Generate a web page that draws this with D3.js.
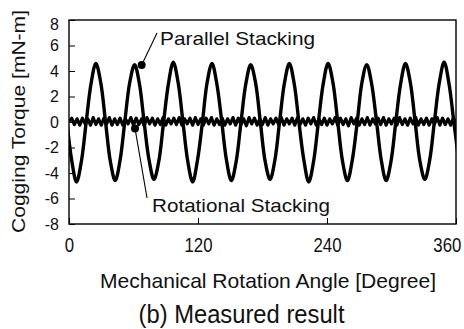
<!DOCTYPE html>
<html>
<head>
<meta charset="utf-8">
<script src="https://cdn.jsdelivr.net/npm/d3@7"></script>
<style>
  body { margin: 0; background: #fff; }
  svg { display: block; }
</style>
</head>
<body>
<svg width="464" height="329"></svg>
<script>
// tick labels
const xTicks = [0, 120, 240, 360];
const yTicks = [-8, -6, -4, -2, 0, 2, 4, 6, 8];

// parallel stacking: samples every 4.5 deg starting at -2 deg
const parallelStart = -2, parallelStep = 4.5;
const parallelTorque = [
  0.1, -3.0, -4.7, -3.1, 0.0, 3.0, 4.6, 3.1,
  0.0, -3.1, -4.6, -3.0, 0.1, 3.1, 4.5, 3.0,
  -0.1, -3.0, -4.5, -3.1, 0.0, 3.0, 4.7, 3.1,
  0.0, -3.1, -4.7, -3.0, -0.1, 3.1, 4.6, 3.0,
  0.1, -3.0, -4.6, -3.1, 0.0, 3.0, 4.5, 3.1,
  0.0, -3.1, -4.5, -3.0, 0.1, 3.1, 4.6, 3.0,
  -0.1, -3.0, -4.7, -3.1, 0.0, 3.0, 4.6, 3.1,
  0.0, -3.1, -4.6, -3.0, -0.1, 3.1, 4.5, 3.0,
  0.1, -3.0, -4.6, -3.1, 0.0, 3.0, 4.6, 3.1,
  0.0, -3.1, -4.5, -3.0, 0.1, 3.1, 4.7, 3.0,
  0.0, -3.0
];

// rotational stacking: samples every 2.5 deg starting at 0 deg
const rotationalStart = 0, rotationalStep = 2.5;
const rotationalTorque = [
  0.05, 0.3, -0.2, 0.25, -0.25, 0.3, -0.15, 0.25, -0.25, 0.35, -0.2, 0.25, -0.25, 0.3, -0.15, 0.35, -0.25, 0.25, -0.2, 0.3,
  -0.25, 0.25, -0.15, 0.35, -0.25, 0.3, -0.2, 0.25, -0.3, 0.35, -0.15, 0.3, -0.25, 0.25, -0.2, 0.35, -0.25, 0.25, -0.15, 0.3,
  -0.2, 0.35, -0.25, 0.25, -0.15, 0.3, -0.25, 0.35, -0.2, 0.25, -0.25, 0.3, -0.15, 0.35, -0.25, 0.25, -0.2, 0.3, -0.25, 0.25,
  -0.15, 0.35, -0.25, 0.3, -0.2, 0.25, -0.3, 0.35, -0.15, 0.3, -0.25, 0.25, -0.2, 0.35, -0.25, 0.25, -0.15, 0.3, -0.2, 0.35,
  -0.25, 0.25, -0.15, 0.3, -0.25, 0.35, -0.2, 0.25, -0.25, 0.3, -0.15, 0.35, -0.25, 0.25, -0.2, 0.3, -0.25, 0.25, -0.15, 0.35,
  -0.25, 0.3, -0.2, 0.25, -0.3, 0.35, -0.15, 0.3, -0.25, 0.25, -0.2, 0.35, -0.25, 0.25, -0.15, 0.3, -0.2, 0.35, -0.25, 0.25,
  -0.15, 0.3, -0.25, 0.35, -0.2, 0.25, -0.25, 0.3, -0.15, 0.35, -0.25, 0.25, -0.2, 0.3, -0.25, 0.25, -0.15, 0.35, -0.25, 0.3,
  -0.2, 0.25, -0.25, 0.3, 0.0
];

// annotations: dot, leader end and text anchor, in data units
const labels = ["Parallel Stacking", "Rotational Stacking"];
const labelDots = [[67.6, 4.47], [61.4, -0.5]];
const labelEnds = [[81.9, 6.98], [72.6, -5.96]];
const labelText = [[84.7, 6.04], [77.2, -7.04]];

const SANS = '"Liberation Sans", Arial, sans-serif';

const svg = d3.select('svg');
const margin = {left: 69, top: 20, right: 8, bottom: 105};
const W = 464, H = 329;

const x = d3.scaleLinear().domain([0, 360]).range([margin.left, W - margin.right]);
const y = d3.scaleLinear().domain([-8, 8]).range([H - margin.bottom, margin.top]);

svg.append('clipPath').attr('id', 'plot')
  .append('rect')
  .attr('x', x(0)).attr('y', y(8))
  .attr('width', x(360) - x(0)).attr('height', y(-8) - y(8));

const par = parallelTorque.map((v, i) => [parallelStart + i * parallelStep, v]);
const rot = rotationalTorque.map((v, i) => [rotationalStart + i * rotationalStep, v]);

const line = d3.line()
  .x(d => x(d[0]))
  .y(d => y(d[1]));

const g = svg.append('g').attr('clip-path', 'url(#plot)');

g.append('path')
  .datum(rot)
  .attr('fill', 'none')
  .attr('stroke', '#000')
  .attr('stroke-width', 3.2)
  .attr('stroke-linejoin', 'round')
  .attr('d', line);

g.append('path')
  .datum(par)
  .attr('fill', 'none')
  .attr('stroke', '#000')
  .attr('stroke-width', 3.4)
  .attr('stroke-linejoin', 'round')
  .attr('d', line.curve(d3.curveCatmullRom));

// frame
svg.append('rect')
  .attr('x', x(0)).attr('y', y(8))
  .attr('width', x(360) - x(0)).attr('height', y(-8) - y(8))
  .attr('fill', 'none')
  .attr('stroke', '#000')
  .attr('stroke-width', 1.4);

// axes
const xAxis = svg.append('g')
  .attr('transform', `translate(0,${y(-8)})`)
  .call(d3.axisBottom(x).tickValues(xTicks).tickFormat(d => String(d))
    .tickSizeInner(-6).tickSizeOuter(0).tickPadding(13));
xAxis.select('.domain').remove();
xAxis.selectAll('text')
  .attr('font-family', SANS)
  .attr('font-size', 21)
  .attr('transform', 'scale(0.8,1)')
  .attr('fill', '#111');
xAxis.selectAll('.tick').filter(d => d === 360).select('text')
  .attr('text-anchor', 'end').attr('x', 6);

const yAxis = svg.append('g')
  .attr('transform', `translate(${x(0)},0)`)
  .call(d3.axisLeft(y).tickValues(yTicks).tickFormat(d => String(d))
    .tickSizeInner(-6).tickSizeOuter(0).tickPadding(10));
yAxis.select('.domain').remove();
yAxis.selectAll('text')
  .attr('font-family', SANS)
  .attr('font-size', 16)
  .attr('fill', '#111');
yAxis.selectAll('.tick').filter(d => d === 8).select('text').attr('dy', '0.62em');

// annotations
labels.forEach((t, i) => {
  svg.append('line')
    .attr('x1', x(labelDots[i][0])).attr('y1', y(labelDots[i][1]))
    .attr('x2', x(labelEnds[i][0])).attr('y2', y(labelEnds[i][1]))
    .attr('stroke', '#000').attr('stroke-width', 1.1);
  svg.append('circle')
    .attr('cx', x(labelDots[i][0])).attr('cy', y(labelDots[i][1]))
    .attr('r', 4).attr('fill', '#000');
  svg.append('text')
    .attr('font-family', SANS)
    .attr('x', x(labelText[i][0])).attr('y', y(labelText[i][1]))
    .attr('font-size', 19)
    .attr('textLength', i === 0 ? 155 : 178)
    .attr('lengthAdjust', 'spacingAndGlyphs')
    .attr('fill', '#111')
    .text(t);
});

// titles
svg.append('text')
  .attr('font-family', SANS)
  .attr('x', 268).attr('y', 288)
  .attr('text-anchor', 'middle')
  .attr('font-size', 21)
  .attr('textLength', 336)
  .attr('lengthAdjust', 'spacingAndGlyphs')
  .attr('fill', '#111')
  .text('Mechanical Rotation Angle [Degree]');

svg.append('text')
  .attr('font-family', SANS)
  .attr('transform', 'translate(25,121.5) rotate(-90)')
  .attr('text-anchor', 'middle')
  .attr('font-size', 19)
  .attr('textLength', 223)
  .attr('lengthAdjust', 'spacingAndGlyphs')
  .attr('fill', '#111')
  .text('Cogging Torque [mN-m]');

svg.append('text')
  .attr('font-family', SANS)
  .attr('x', 241.5).attr('y', 322.5)
  .attr('text-anchor', 'middle')
  .attr('font-size', 25)
  .attr('textLength', 206)
  .attr('lengthAdjust', 'spacingAndGlyphs')
  .attr('fill', '#111')
  .text('(b) Measured result');
</script>
</body>
</html>
